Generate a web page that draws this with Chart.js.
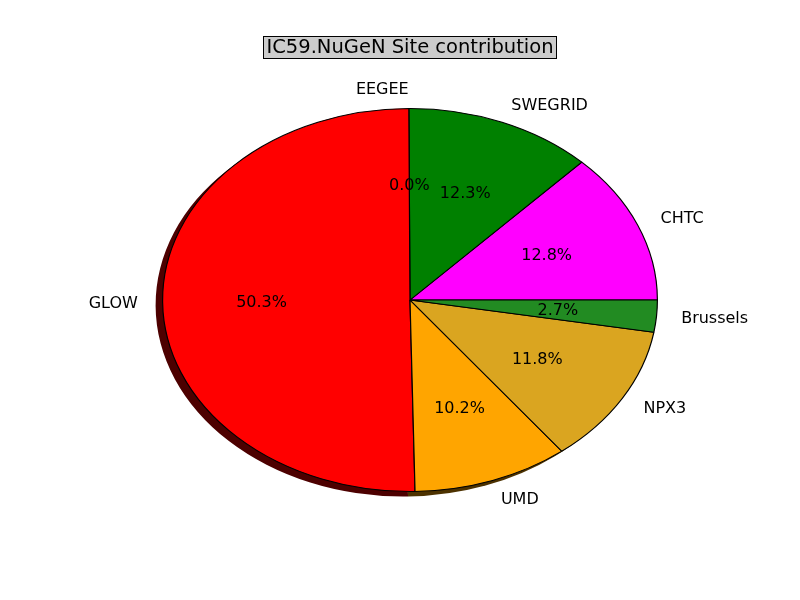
<!DOCTYPE html>
<html>
<head>
<meta charset="utf-8">
<script src="https://cdn.jsdelivr.net/npm/chart.js@4"></script>
<style>
  html, body { margin: 0; padding: 0; background: #ffffff; }
  canvas { display: block; }
</style>
</head>
<body>
<canvas id="siteChart" width="800" height="600"></canvas>
<script>
// Site contribution data (counter-clockwise from 3 o'clock, like the original)

const sites = ['CHTC', 'SWEGRID', 'EEGEE', 'GLOW', 'UMD', 'NPX3', 'Brussels'];
const shares = [12.8, 12.3, 0.0, 50.3, 10.2, 11.8, 2.7];
const sliceColors = ['#ff00ff', '#008000', '#0000ff', '#ff0000', '#ffa500', '#daa520', '#228b22'];
const chartTitle = 'IC59.NuGeN Site contribution';

// vertical squash of the pie (the original is an ellipse)
const squash = 192 / 248;
const labelFont = '16px "DejaVu Sans", sans-serif';

function darker(hex) {
    const n = parseInt(hex.slice(1), 16);
    const r = Math.round(((n >> 16) & 255) * 0.3);
    const g = Math.round(((n >> 8) & 255) * 0.3);
    const b = Math.round((n & 255) * 0.3);
    return `rgb(${r}, ${g}, ${b})`;
}

// Squash + flip, and draw the drop shadow below the slices

const ellipsePlugin = {
    id: 'ellipse',
    beforeDatasetsDraw(chart) {
        const ctx = chart.ctx;
        const arcs = chart.getDatasetMeta(0).data;
        const cx = arcs[0].x;
        const cy = arcs[0].y;
        ctx.save();
        ctx.translate(cx, cy);
        ctx.scale(1, -squash);
        ctx.translate(-cx, -cy);

        const ox = -7;
        const oy = -5 / squash;
        arcs.forEach((arc, i) => {
            if (arc.endAngle - arc.startAngle <= 0) return;
            ctx.beginPath();
            ctx.moveTo(arc.x + ox, arc.y + oy);
            ctx.arc(arc.x + ox, arc.y + oy, arc.outerRadius, arc.startAngle, arc.endAngle);
            ctx.closePath();
            ctx.fillStyle = darker(sliceColors[i]);
            ctx.fill();
        });
    },
    afterDatasetsDraw(chart) {
        chart.ctx.restore();
    }
};

// Percent labels inside, site names outside

const labelPlugin = {
    id: 'sliceLabels',
    afterDatasetsDraw(chart) {
        const ctx = chart.ctx;
        const arcs = chart.getDatasetMeta(0).data;
        ctx.save();
        ctx.font = labelFont;
        ctx.fillStyle = '#000000';
        ctx.textBaseline = 'middle';
        arcs.forEach((arc, i) => {
            const mid = (arc.startAngle + arc.endAngle) / 2;
            const r = arc.outerRadius;
            const c = Math.cos(mid);
            const s = Math.sin(mid);

            ctx.textAlign = 'center';
            ctx.fillText(shares[i].toFixed(1) + '%', arc.x + 0.6 * r * c, arc.y + 1 - 0.6 * r * squash * s);

            ctx.textAlign = c > 0 ? 'left' : 'right';
            ctx.fillText(sites[i], arc.x + 1.1 * r * c, arc.y + 1 - 1.1 * r * squash * s);
        });
        ctx.restore();
    }
};

// Title in a grey box

const titlePlugin = {
    id: 'boxTitle',
    afterDraw(chart) {
        const ctx = chart.ctx;
        ctx.save();
        ctx.font = '19.5px "DejaVu Sans", sans-serif';
        const w = ctx.measureText(chartTitle).width;
        const x = 410;
        const y = 47;
        const left = Math.round(x - w / 2 - 3) + 0.5;
        const boxW = Math.round(w + 6);
        ctx.fillStyle = '#cccccc';
        ctx.fillRect(left, 36.5, boxW, 22);
        ctx.strokeStyle = '#000000';
        ctx.lineWidth = 1;
        ctx.strokeRect(left, 36.5, boxW, 22);
        ctx.fillStyle = '#000000';
        ctx.textAlign = 'center';
        ctx.textBaseline = 'middle';
        ctx.fillText(chartTitle, x, y + 1);
        ctx.restore();
    }
};

const siteCanvas = document.getElementById('siteChart');

let siteChart = new Chart(siteCanvas, {
    type: 'pie',
    data: {
        labels: sites,
        datasets: [{
            data: shares,
            backgroundColor: sliceColors,
            borderColor: '#000000',
            borderWidth: 1.2,
            clip: false
        }]
    },
    options: {
        responsive: false,
        animation: false,
        rotation: 90,
        layout: {
            padding: { top: 52, bottom: 52, left: 162, right: 142 }
        },
        plugins: {
            legend: { display: false },
            tooltip: { enabled: false },
            title: { display: false }
        }
    },
    plugins: [ellipsePlugin, labelPlugin, titlePlugin]
});
</script>
</body>
</html>
